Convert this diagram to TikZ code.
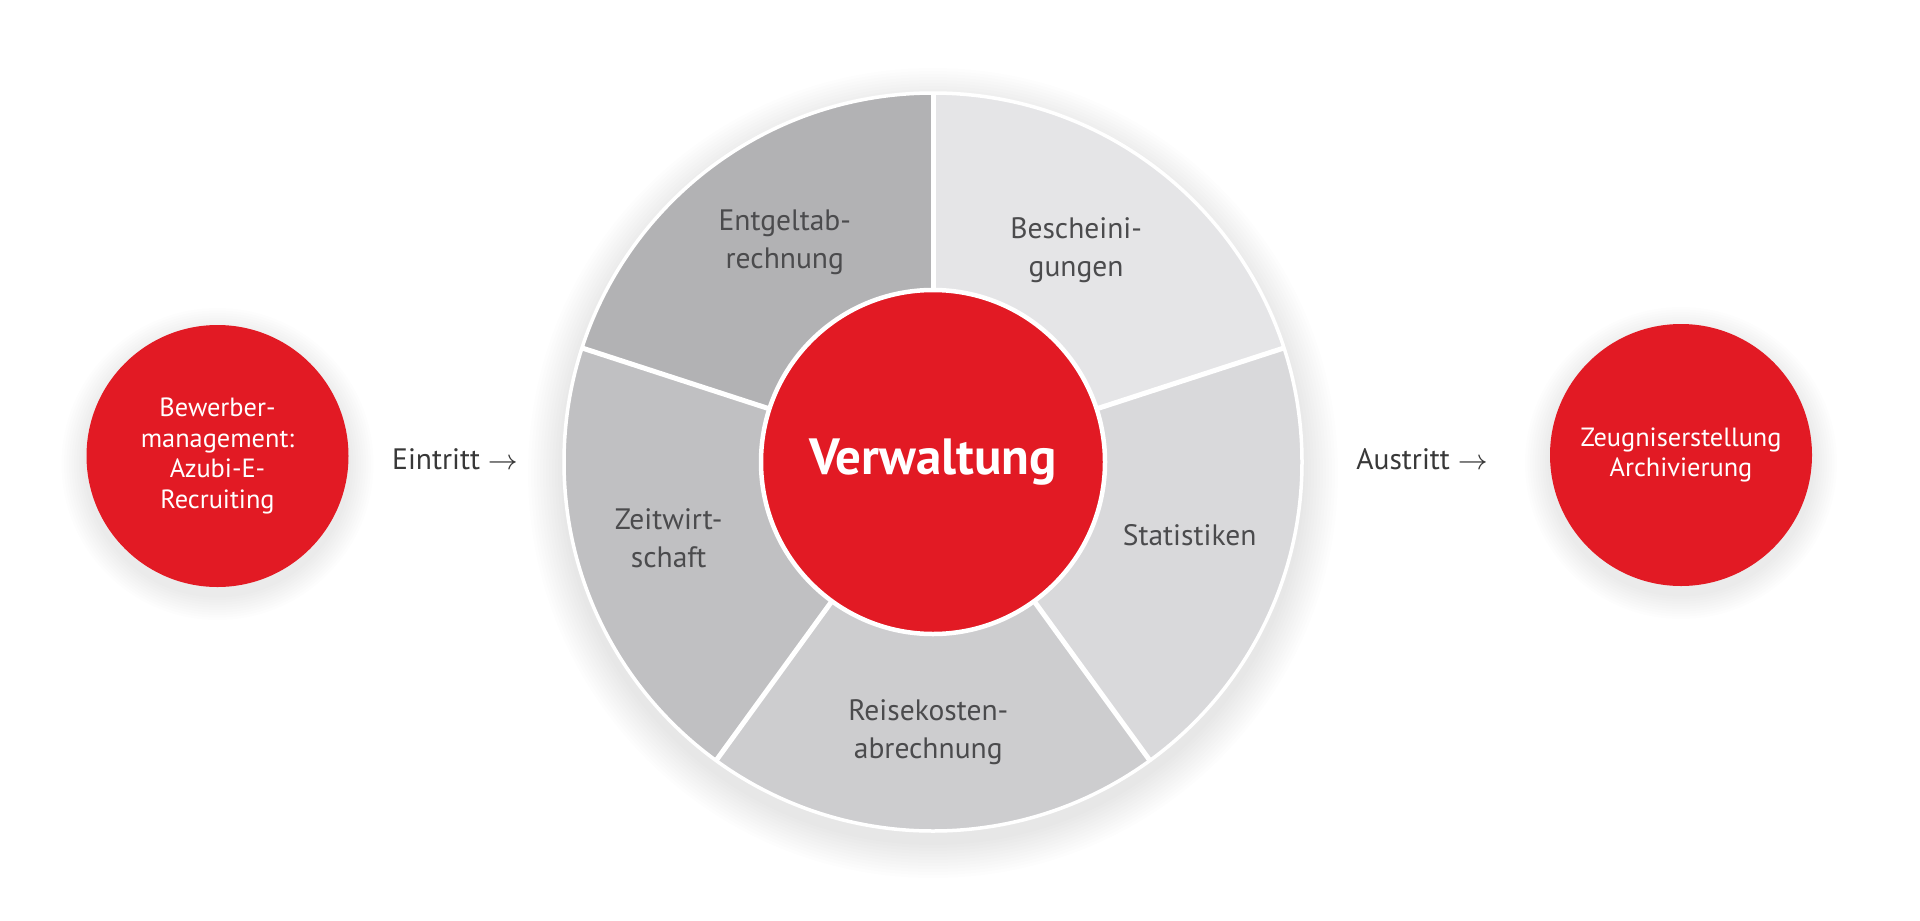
\documentclass[tikz,border=0pt]{standalone}
\usepackage{fontspec}
\setmainfont{PT Sans}
\usetikzlibrary{positioning,calc}
\definecolor{redCol}{RGB}{226,26,36}
\definecolor{segA}{RGB}{178,178,180}
\definecolor{segB}{RGB}{229,229,231}
\definecolor{segS}{RGB}{217,217,219}
\definecolor{segR}{RGB}{205,205,207}
\definecolor{segZ}{RGB}{192,192,194}
\definecolor{txtCol}{RGB}{75,75,77}
\tikzset{
  endpt/.style={circle,fill=redCol,minimum size=26.2mm,inner sep=0pt,align=center,
                text=white,font=\fontsize{7.5}{8.7}\selectfont},
  core/.style={circle,fill=redCol,draw=white,line width=0.45mm,minimum size=34.4mm,
               text=white,font=\fontsize{14.5}{17}\selectfont\bfseries},
  seglab/.style={align=center,text=txtCol,font=\fontsize{8.4}{10.8}\selectfont},
  steplab/.style={text=black!78,font=\fontsize{8.4}{10}\selectfont},
  divider/.style={white,line width=0.5mm},
  halo/.style={black,opacity=0.009},
}

\begin{document}
\begin{tikzpicture}[x=1mm,y=1mm]
    \useasboundingbox (0,0) rectangle (192,92);
    \coordinate (c)  at (93.3,45.8);
    \coordinate (lc) at (21.75,46.4);
    \coordinate (rc) at (168.1,46.5);
    % --- soft shadows behind the three discs ---
    \foreach \i in {1,...,12}
      \fill[halo] ($(c)+(0,-1.1)$) circle ({36.9+0.3*\i});
    \foreach \i in {1,...,10}{
      \fill[halo] ($(lc)+(0,-0.8)$) circle ({13.1+0.25*\i});
      \fill[halo] ($(rc)+(0,-0.8)$) circle ({13.1+0.25*\i});
    }
    % --- ring of five sectors ---
    \foreach \a/\col in {18/segB,90/segA,162/segZ,234/segR,306/segS}
      \fill[\col] (c) -- ++(\a:36.9) arc[start angle=\a,delta angle=72,radius=36.9] -- cycle;
    \foreach \a in {18,90,162,234,306}
      \draw[divider] (c) -- ++(\a:36.9);
    \draw[white,line width=0.35mm] (c) circle (36.9);
    \foreach \a/\r/\t [count=\k] in {124/26.5/{Entgeltab-\\rechnung},
                                     56/25.6/{Bescheini-\\gungen},
                                     196/27.5/{Zeitwirt-\\schaft},
                                     344/26.7/{Statistiken},
                                     269/27/{Reisekosten-\\abrechnung}}
      \node[seglab] (seg\k) at ($(c)+(\a:\r)$) {\t};
    % --- centre and the two ends ---
    \node[core] (verw) at (c) {Verwaltung};
    \node[endpt] (bew) at (lc) {Bewerber-\\management:\\Azubi-E-\\Recruiting};
    \node[endpt] (zeug) at (rc) {Zeugniserstellung\\Archivierung};
    \node[steplab] (ein) at (45.5,46.1) {Eintritt $\rightarrow$};
    \node[steplab] (aus) at (142.2,46.1) {Austritt $\rightarrow$};
  \end{tikzpicture}
\end{document}
